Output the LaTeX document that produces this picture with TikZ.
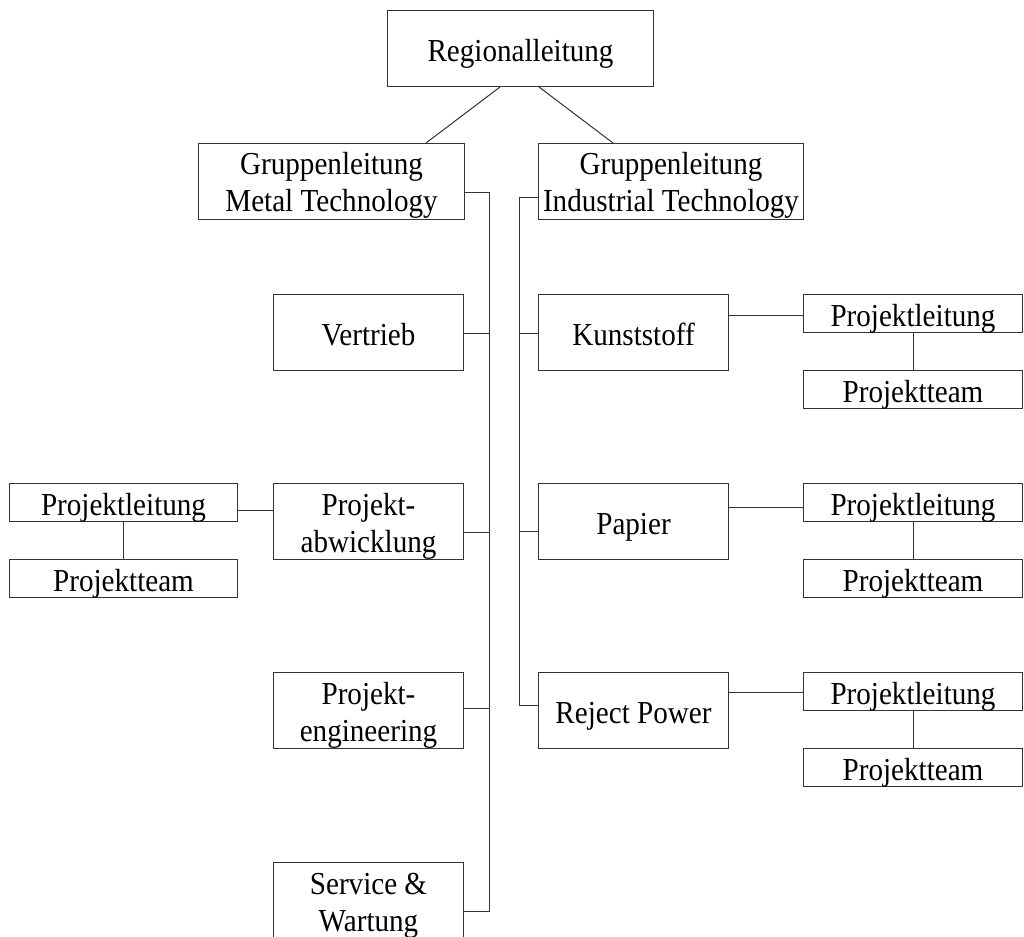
\documentclass[tikz,border=0pt]{standalone}
\usepackage{fontspec}
\setmainfont{Liberation Serif}[FakeStretch=0.91]
% single line: baseline 13pt below the box centre
\newcommand\oneline[1]{\smash{\raisebox{-13pt}{#1}}}
% two lines: first baseline 6.5pt above the box centre, 37pt line pitch
\newcommand\twoline[2]{\smash{\raisebox{6.5pt}{\begin{tabular}[t]{@{}c@{}}#1\\#2\end{tabular}}}}
\begin{document}
\begin{tikzpicture}[x=1pt,y=-1pt,
  box/.style={draw=black!80, fill=white, line width=1pt, inner sep=0pt, anchor=north west,
     font=\fontsize{32pt}{37pt}\selectfont, text=black},
  big/.style={box, minimum width=190pt, minimum height=76pt},
  grp/.style={box, minimum width=266pt, minimum height=76pt},
  small/.style={box, minimum width=219pt, minimum height=38pt},
  conn/.style={draw=black!80, line width=1pt}]
\fill[white] (0,0) rectangle (1024,936);
\useasboundingbox (0,0) rectangle (1024,936);
\coordinate (lb) at (489,0);
\coordinate (rb) at (519,0);

\node[grp] (reg) at (387,10) {\oneline{Regionalleitung}};
\node[grp] (metal) at (198,143) {\twoline{Gruppenleitung}{Metal Technology}};
\node[grp, minimum width=265pt] (ind) at (538,143) {\twoline{Gruppenleitung}{Industrial Technology}};

\node[big] (vert) at (273,294) {\oneline{Vertrieb}};
\node[big] (pabw) at (273,483) {\twoline{Projekt-}{abwicklung}};
\node[big] (peng) at (273,672) {\twoline{Projekt-}{engineering}};
\node[big] (serv) at (273,862) {\twoline{Service \&}{Wartung}};

\node[big] (kunst) at (538,294) {\oneline{Kunststoff}};
\node[big] (papier) at (538,483) {\oneline{Papier}};
\node[big] (reject) at (538,672) {\oneline{Reject Power}};

\node[small] (pl1) at (803,294) {\oneline{Projektleitung}};
\node[small] (pt1) at (803,370) {\oneline{Projektteam}};
\node[small] (pl2) at (803,483) {\oneline{Projektleitung}};
\node[small] (pt2) at (803,559) {\oneline{Projektteam}};
\node[small] (pl3) at (803,672) {\oneline{Projektleitung}};
\node[small] (pt3) at (803,748) {\oneline{Projektteam}};
\node[small, minimum width=228pt] (pll) at (9,483) {\oneline{Projektleitung}};
\node[small, minimum width=228pt] (ptl) at (9,559) {\oneline{Projektteam}};

% top connectors
\draw[conn] ([xshift=113pt]reg.south west) -- ([xshift=228pt]metal.north west);
\draw[conn] ([xshift=152pt]reg.south west) -- ([xshift=75pt]ind.north west);

% left bus
\draw[conn] ([yshift=-49pt]metal.north east) -| ([yshift=-49pt]serv.north east -| lb) -- ([yshift=-49pt]serv.north east);
\draw[conn] ([yshift=-39pt]vert.north east) -- ([yshift=-39pt]vert.north east -| lb);
\draw[conn] ([yshift=-49pt]pabw.north east) -- ([yshift=-49pt]pabw.north east -| lb);
\draw[conn] ([yshift=-36pt]peng.north east) -- ([yshift=-36pt]peng.north east -| lb);

% right bus
\draw[conn] ([yshift=-54pt]ind.north west) -| ([yshift=-33pt]reject.north west -| rb) -- ([yshift=-33pt]reject.north west);
\draw[conn] ([yshift=-39pt]kunst.north west) -- ([yshift=-39pt]kunst.north west -| rb);
\draw[conn] ([yshift=-48pt]papier.north west) -- ([yshift=-48pt]papier.north west -| rb);

% project teams
\draw[conn] ([yshift=-21pt]kunst.north east) -- ([yshift=-21pt]kunst.north east -| pl1.west);
\draw[conn] ([yshift=-24pt]papier.north east) -- ([yshift=-24pt]papier.north east -| pl2.west);
\draw[conn] ([yshift=-20pt]reject.north east) -- ([yshift=-20pt]reject.north east -| pl3.west);
\draw[conn] ([yshift=-27pt]pabw.north west) -- ([yshift=-27pt]pabw.north west -| pll.east);
\draw[conn] (pl1.south) -- (pt1.north);
\draw[conn] (pl2.south) -- (pt2.north);
\draw[conn] (pl3.south) -- (pt3.north);
\draw[conn] (pll.south) -- (ptl.north);
\end{tikzpicture}
\end{document}
